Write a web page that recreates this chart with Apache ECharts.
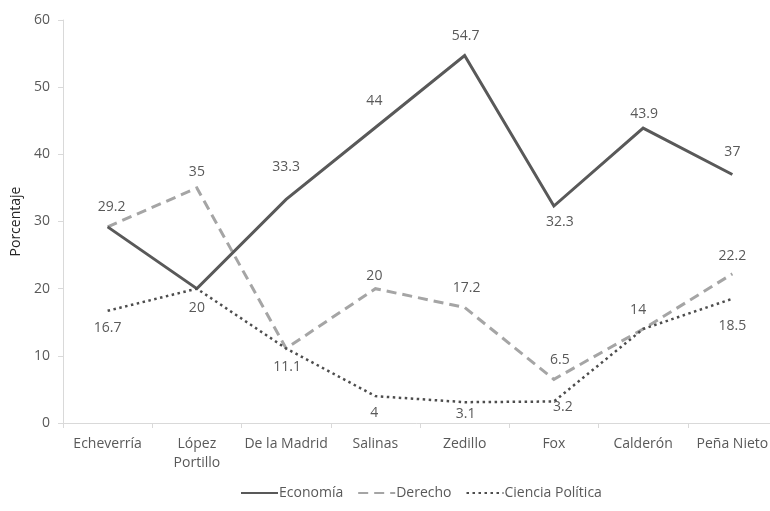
<!DOCTYPE html>
<html>
<head>
<meta charset="utf-8">
<script src="https://cdn.jsdelivr.net/npm/echarts@6/dist/echarts.min.js"></script>
<style>
  html, body { margin: 0; padding: 0; background: #fff; }
  #chart { width: 770px; height: 511px; }
</style>
</head>
<body>
<div id="chart"></div>
<script>
// Sexenios presidenciales
const categories = ['Echeverría', 'López\nPortillo', 'De la Madrid', 'Salinas', 'Zedillo', 'Fox', 'Calderón', 'Peña Nieto'];

// Porcentaje por formación profesional
const economia = [29.2, 20, 33.3, 44, 54.7, 32.3, 43.9, 37];
const derecho = [29.2, 35, 11.1, 20, 17.2, 6.5, 14, 22.2];
const cienciaPolitica = [16.7, 20, 11.1, 4, 3.1, 3.2, 14, 18.5];

const yTicks = [0, 10, 20, 30, 40, 50, 60];

// Label placement (offset from each point; null = no label)
const economiaLabelOffsets = [null, [0, 19], [0, -32], [-1, -26], [1, -20], [6, 16], [1, -14], [0, -22]];
const derechoLabelOffsets = [[4, -20], [0, -16], [1, 19], [-1, -13], [2, -19], [6, -19], [-5, -19], [0, -18]];
const cienciaLabelOffsets = [[0, 17], null, null, [-1, 17], [1, 12], [9, 6], null, [0, 27]];

const FONT = "'Open Sans', 'Noto Sans', sans-serif";
const TEXT = '#595959';

function withLabels(values, offsets) {
  return values.map((v, i) => {
    const off = offsets[i];
    return {
      value: v,
      label: off
        ? { show: true, position: 'inside', offset: off, color: TEXT, fontFamily: FONT, fontSize: 14 }
        : { show: false }
    };
  });
}

const chart = echarts.init(document.getElementById('chart'), null, { renderer: 'canvas' });

chart.setOption({
  animation: false,
  backgroundColor: '#ffffff',
  textStyle: { fontFamily: FONT, color: TEXT },
  grid: { left: 63, right: -7, top: 20, bottom: 88, containLabel: false, outerBoundsMode: 'none' },
  legend: {
    bottom: 6,
    left: 235,
    itemWidth: 37,
    itemHeight: 10,
    itemGap: 14,
    itemStyle: { opacity: 0 },
    textStyle: { fontFamily: FONT, fontSize: 14, color: TEXT, padding: [0, 0, 0, -4] },
    data: ['Economía', 'Derecho', 'Ciencia Política']
  },
  xAxis: {
    type: 'category',
    data: categories,
    boundaryGap: true,
    axisLine: { lineStyle: { color: '#d9d9d9', width: 1 } },
    axisTick: { show: true, length: 5, lineStyle: { color: '#d9d9d9' } },
    axisLabel: { fontFamily: FONT, fontSize: 14, color: TEXT, margin: 12, lineHeight: 19, interval: 0 }
  },
  yAxis: {
    type: 'value',
    min: yTicks[0],
    max: yTicks[yTicks.length - 1],
    interval: 10,
    name: 'Porcentaje',
    nameLocation: 'middle',
    nameGap: 37,
    nameTextStyle: { fontFamily: FONT, fontSize: 14, color: '#262626' },
    axisLine: { show: true, lineStyle: { color: '#d9d9d9', width: 1 } },
    axisTick: { show: true, length: 5, lineStyle: { color: '#d9d9d9' } },
    splitLine: { show: false },
    axisLabel: { fontFamily: FONT, fontSize: 14, color: TEXT, margin: 13 }
  },
  series: [
    {
      name: 'Economía',
      type: 'line',
      data: withLabels(economia, economiaLabelOffsets),
      symbol: 'circle',
      symbolSize: 0.1,
      itemStyle: { color: '#595959' },
      lineStyle: { color: '#595959', width: 3, type: 'solid', join: 'miter', cap: 'butt' },
      z: 3
    },
    {
      name: 'Derecho',
      type: 'line',
      data: withLabels(derecho, derechoLabelOffsets),
      symbol: 'circle',
      symbolSize: 0.1,
      itemStyle: { color: '#a5a5a5' },
      lineStyle: { color: '#a5a5a5', width: 3, type: [10, 6], join: 'miter', cap: 'butt' },
      z: 2
    },
    {
      name: 'Ciencia Política',
      type: 'line',
      data: withLabels(cienciaPolitica, cienciaLabelOffsets),
      symbol: 'circle',
      symbolSize: 0.1,
      itemStyle: { color: '#4d4d4d' },
      lineStyle: { color: '#4d4d4d', width: 2.5, type: [2.5, 3.5], join: 'miter', cap: 'butt' },
      z: 4
    }
  ]
});
</script>
</body>
</html>
